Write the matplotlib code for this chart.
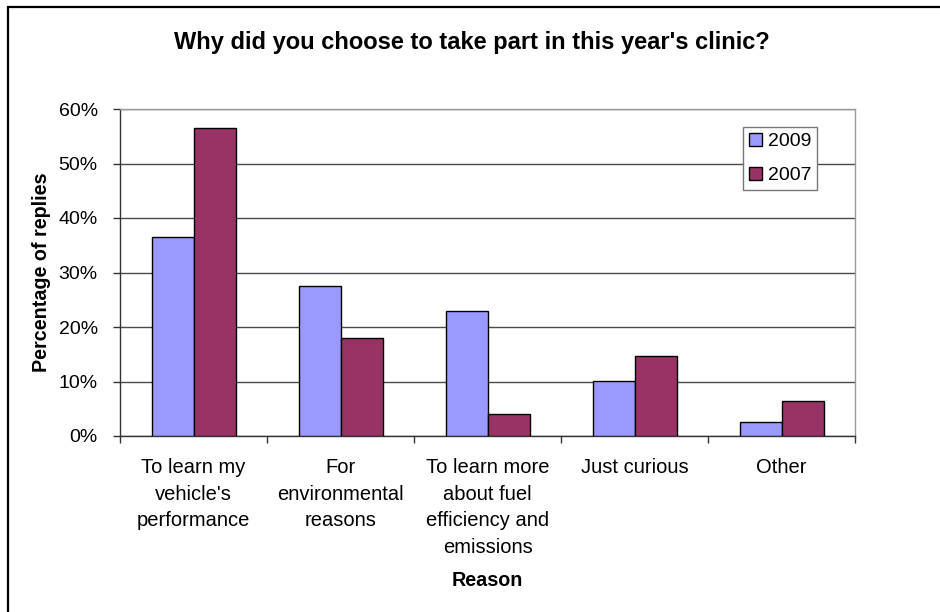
import matplotlib
matplotlib.use('Agg')
import matplotlib.pyplot as plt
from matplotlib.patches import Rectangle
from matplotlib.ticker import PercentFormatter
import numpy as np

plt.rcParams['font.family'] = ['Liberation Sans', 'DejaVu Sans']

categories = ["To learn my\nvehicle's\nperformance",
              "For\nenvironmental\nreasons",
              "To learn more\nabout fuel\nefficiency and\nemissions",
              "Just curious",
              "Other"]
years = ['2009', '2007']
pct_2009 = [36.6, 27.5, 23.0, 10.1, 2.6]
pct_2007 = [56.5, 17.9, 4.0, 14.7, 6.5]
yticks = [0, 10, 20, 30, 40, 50, 60]

W, H = 940, 612
fig = plt.figure(figsize=(W / 100, H / 100), dpi=100)
ax = fig.add_axes([120 / W, 1 - 436 / H, 735 / W, 327 / H])

# outer chart frame (cropped on the right and bottom)
fig.patches.append(Rectangle((8 / W, -0.01), 1.02, 1 - 7 / H + 0.01,
                             transform=fig.transFigure, fill=False,
                             edgecolor='black', lw=1.6, zorder=10))

x = np.arange(len(categories))
bw = 1 / 3.5
ax.bar(x - bw / 2, pct_2009, bw, color='#9999FF', edgecolor='black', lw=1,
       label=years[0], zorder=3)
ax.bar(x + bw / 2, pct_2007, bw, color='#993366', edgecolor='black', lw=1,
       label=years[1], zorder=3)

ax.set_xlim(-0.5, len(categories) - 0.5)
ax.set_ylim(0, 60)
ax.set_yticks(yticks)
ax.yaxis.set_major_formatter(PercentFormatter(decimals=0))
ax.grid(axis='y', color='#4a4a4a', lw=1, zorder=0)

ax.set_xticks(np.arange(len(categories) + 1) - 0.5)
ax.set_xticklabels([])
ax.set_xticks(x, minor=True)
ax.set_xticklabels(categories, minor=True, fontsize=14.5, linespacing=1.5,
                   va='top')
ax.tick_params(axis='x', which='minor', length=0, pad=16)
ax.tick_params(axis='x', which='major', length=5, width=1, color='#333333')
ax.tick_params(axis='y', length=5, width=1, color='#333333', pad=11,
               labelsize=14)

for s in ['top', 'right']:
    ax.spines[s].set_color('#999999')
for s in ['left', 'bottom']:
    ax.spines[s].set_color('#333333')
for s in ax.spines.values():
    s.set_linewidth(1)

ax.set_ylabel('Percentage of replies', fontsize=14.2, fontweight='bold',
              ha='center', va='center')
ax.yaxis.set_label_coords(-(120 - 42) / 735, 0.5)
ax.set_xlabel('Reason', fontsize=14.2, fontweight='bold', va='center')
ax.xaxis.set_label_coords(0.5, -(580 - 436) / 327)

fig.text(0.502, 1 - 43 / H, "Why did you choose to take part in this year's clinic?",
         ha='center', va='center', fontsize=17, fontweight='bold')

leg = ax.legend(loc='upper right', bbox_to_anchor=((817 - 120) / 735, (436 - 127) / 327),
                fontsize=14, fancybox=False, framealpha=1, edgecolor='#777777',
                handlelength=0.65, handleheight=0.65, handletextpad=0.3,
                borderpad=0.3, labelspacing=0.85, borderaxespad=0)
leg.get_frame().set_linewidth(1)

fig.savefig('out.png', dpi=100)
